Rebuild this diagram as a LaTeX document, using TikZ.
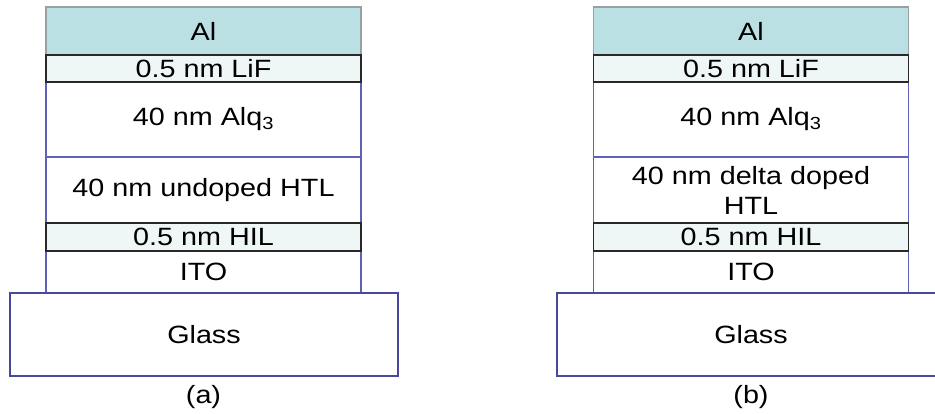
\documentclass[tikz,border=0pt]{standalone}
\usepackage{fontspec}
\setmainfont[FakeStretch=1.15]{Liberation Sans}
\usepackage{tikz}
\usetikzlibrary{positioning}

\definecolor{alfill}{RGB}{187,224,227}
\definecolor{thinfill}{RGB}{238,246,246}
\definecolor{edgeblue}{RGB}{96,96,184}
\definecolor{glassblue}{RGB}{72,72,156}
\definecolor{edgegray}{RGB}{150,160,165}
\definecolor{edgedark}{RGB}{40,40,40}

\begin{document}
\begin{tikzpicture}[x=1pt,y=-1pt,
  every node/.style={font=\fontsize{25}{30}\selectfont,inner sep=0pt,outer sep=0pt},
  layer/.style={draw=edgeblue,line width=1.2pt,fill=white,anchor=north,
    minimum width=315pt,align=center},
  metal/.style={layer,draw=edgegray,fill=alfill},
  thinlayer/.style={layer,draw=edgedark,fill=thinfill},
  glass/.style={layer,draw=glassblue,minimum width=388pt,minimum height=83pt}]
\useasboundingbox (0,0) rectangle (935,414);
\clip (0,0) rectangle (935,414);
% Device (a): undoped HTL
\node[metal,minimum height=48pt] (alA) at (203.5,7) {Al};
\node[layer,minimum height=75pt] (alqA) at (203.5,82) {40 nm Alq\textsubscript{3}};
\node[layer,minimum height=66pt] (htlA) at (203.5,157) {40 nm undoped HTL};
\node[layer,minimum height=42pt] (itoA) at (203.5,251) {ITO};
\node[thinlayer,minimum height=27pt] (lifA) at (203.5,55) {0.5 nm LiF};
\node[thinlayer,minimum height=28pt] (hilA) at (203.5,223) {0.5 nm HIL};
\node[glass] (glassA) at (204,293) {Glass};
\node (capA) at (203.5,397) {(a)};
% Device (b): delta doped HTL
\node[metal,minimum height=48pt] (alB) at (751,7) {Al};
\node[layer,minimum height=75pt] (alqB) at (751,82) {40 nm Alq\textsubscript{3}};
\node[layer,minimum height=66pt] (htlB) at (751,157) {40 nm delta doped\\HTL};
\node[layer,minimum height=42pt] (itoB) at (751,251) {ITO};
\node[thinlayer,minimum height=27pt] (lifB) at (751,55) {0.5 nm LiF};
\node[thinlayer,minimum height=28pt] (hilB) at (751,223) {0.5 nm HIL};
\node[glass] (glassB) at (751,293) {Glass};
\node (capB) at (751,397) {(b)};
\end{tikzpicture}
\end{document}
